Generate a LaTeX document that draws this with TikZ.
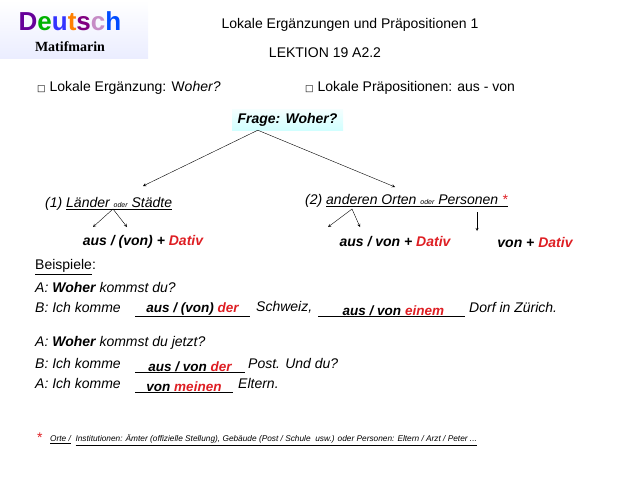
\documentclass[tikz,border=0pt]{standalone}
\usepackage{fontspec}
\setmainfont{Liberation Sans}
\newfontfamily\logoserif{Liberation Serif}
\newfontfamily\symb{DejaVu Sans}
\usetikzlibrary{positioning,calc}
\definecolor{rot}{RGB}{222,30,35}
\tikzset{
  txt/.style={anchor=west,inner sep=0pt,font=\fontsize{14}{17}\selectfont},
  bsp/.style={txt,font=\fontsize{14}{17}\selectfont\itshape},
  loes/.style={anchor=south,inner sep=1pt,font=\fontsize{14}{17}\selectfont\bfseries\itshape},
  regel/.style={anchor=center,inner sep=0pt,font=\fontsize{14}{17}\selectfont\bfseries\itshape},
  pfeil/.style={->,>=stealth,thin}
}
\newcommand{\dat}{\textcolor{rot}{Dativ}}
\newcommand{\kaestchen}{{\symb\fontsize{9}{9}\selectfont □}}
\begin{document}
\begin{tikzpicture}[x=1pt,y=-1pt]
\useasboundingbox (0,0) rectangle (638,479);
% Kopf
\node[minimum width=148pt,minimum height=58pt,top color=white,bottom color=cyan!12!blue!8,anchor=north west] (logo) at (0,0) {};
\node[font=\fontsize{26}{26}\selectfont\bfseries] (deutsch) at (70,21)
  {\textcolor{violet!80!blue}{D}\textcolor{green!70!black}{e}\textcolor{blue!80}{u}\textcolor{orange}{t}\textcolor{violet}{s}\textcolor{violet!45}{c}\textcolor{blue!70!cyan}{h}};
\node[font=\fontsize{14}{14}\selectfont\logoserif\bfseries] (matif) at (70,47) {Matifmarin};
\node[txt,anchor=center] (titel) at (350,25) {Lokale Ergänzungen und Präpositionen 1};
\node[txt,anchor=center] (lektion) at (325,53) {LEKTION 19 A2.2};
\node[txt] (erg) at (37,88) {\kaestchen{} Lokale Ergänzung: W\textit{oher?}};
\node[txt] (praep) at (305,88) {\kaestchen{} Lokale Präpositionen: aus - von};
% Baum
\node[regel,minimum width=111pt,minimum height=21pt,top color=cyan!4,bottom color=cyan!18] (frage) at (287.5,119.5) {Frage: Woher?};
\node[txt,font=\fontsize{14}{17}\selectfont\itshape] (laender) at (45,204) {(1) \underline{Länder {\scriptsize oder} Städte}};
\node[txt,font=\fontsize{14}{17}\selectfont\itshape] (orte) at (305,201) {(2) \underline{anderen Orten {\scriptsize oder} Personen \textcolor{rot}{*}}};
\coordinate (spitzeL) at (113,209);
\coordinate (spitzeR) at (352,209);
\draw[pfeil] (frage.south west) ++(26,0) coordinate (f0) -- (143,186);
\draw[pfeil] (f0) -- (395,187);
\node[regel] (r1) at (143,242) {aus / (von) + \dat};
\node[regel] (r2) at (395,242) {aus / von + \dat};
\node[regel] (r3) at (535,242) {von + \dat};
\draw[pfeil] (spitzeL) -- (93,227);
\draw[pfeil] (spitzeL) -- (127,227);
\draw[pfeil] (spitzeR) -- (328,227);
\draw[pfeil] (spitzeR) -- (360,227);
\draw[pfeil] (477,212) -- (477,231);
% Beispiele
\node[txt] (beisp) at (35,267) {\underline{Beispiele}:};
\node[bsp] (z1) at (35,287) {A: \textbf{Woher} kommst du?};
\node[bsp] (z2) at (35,307) {B: Ich komme};
\node[bsp] (z2b) at (256,307) {Schweiz,};
\node[bsp] (z2c) at (469,307) {Dorf in Zürich.};
\node[bsp] (z3) at (35,343) {A: \textbf{Woher} kommst du jetzt?};
\node[bsp] (z4) at (35,363) {B: Ich komme};
\node[bsp] (z4b) at (248,363) {Post. Und du?};
\node[bsp] (z5) at (35,383) {A: Ich komme};
\node[bsp] (z5b) at (238,383) {Eltern.};
% Lücken
\foreach \n/\a/\b/\y/\t in {l1/135/250/316/{aus / (von) \textcolor{rot}{der}},
    l2/318/465/316/{\ aus / von \textcolor{rot}{einem}},
    l3/135/245/372/{aus / von \textcolor{rot}{der}},
    l4/135/233/392/{von \textcolor{rot}{meinen}}}{
  \coordinate (\n a) at (\a,\y);
  \coordinate (\n b) at (\b,\y);
  \draw[thin] (\n a) -- (\n b);
  \node[loes,font=\fontsize{13.5}{16}\selectfont\bfseries\itshape,inner sep=0.5pt] (\n) at ($(\n a)!0.5!(\n b)$) {\t};
}
% Fußnote
\node[txt,text=rot,font=\fontsize{14}{14}\selectfont] (stern) at (37,438) {*};
\node[txt,font=\fontsize{8.3}{10}\selectfont\itshape] (fuss) at (50,440) {\underline{Orte /} \ \underline{Institutionen: Ämter (offizielle Stellung), Gebäude (Post / Schule\ \ usw.) oder Personen: Eltern / Arzt / Peter ...}};
\end{tikzpicture}
\end{document}
